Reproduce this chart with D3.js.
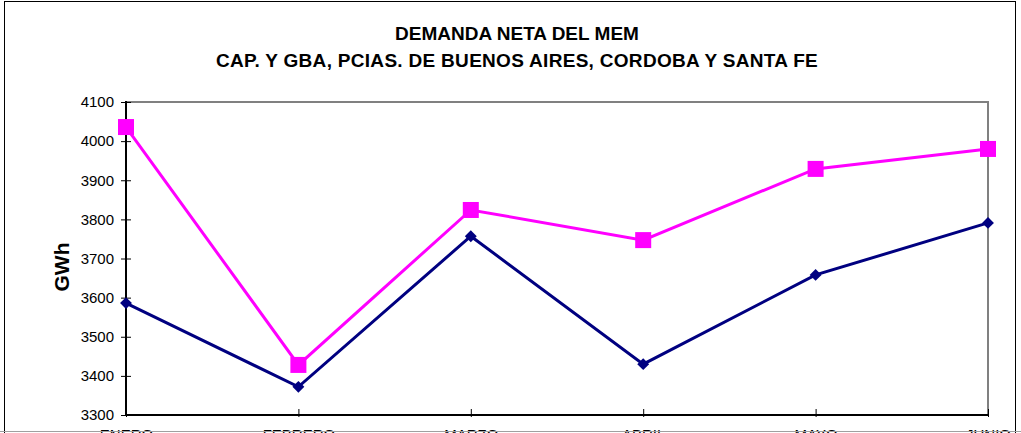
<!DOCTYPE html>
<html>
<head>
<meta charset="utf-8">
<script src="https://cdn.jsdelivr.net/npm/d3@7"></script>
<style>
  body { margin: 0; background: #fff; }
  svg { display: block; font-family: "Liberation Sans", Arial, sans-serif; }
</style>
</head>
<body>
<div id="chart"></div>
<script>
var months = ['ENERO', 'FEBRERO', 'MARZO', 'ABRIL', 'MAYO', 'JUNIO'];
var seriesPink = [4036, 3428, 3824, 3747, 3929, 3980];
var seriesNavy = [3586, 3372, 3757, 3430, 3658, 3791];
var yTicks = [3300, 3400, 3500, 3600, 3700, 3800, 3900, 4000, 4100];
var titleLines = ['DEMANDA NETA DEL MEM', 'CAP. Y GBA, PCIAS. DE BUENOS AIRES, CORDOBA Y SANTA FE'];

var width = 1021;
var height = 433;
var margin = { top: 102, right: 33, bottom: 18, left: 126 };
var plotW = width - margin.left - margin.right;
var plotH = height - margin.top - margin.bottom;
var fontFamily = '"Liberation Sans", Arial, sans-serif';

var svg = d3.select('#chart').append('svg')
    .attr('width', width)
    .attr('height', height);

// outer chart frame
svg.append('rect')
    .attr('x', 4.5)
    .attr('y', 1.5)
    .attr('width', 1011)
    .attr('height', 460)
    .attr('fill', 'none')
    .attr('stroke', '#000')
    .attr('stroke-width', 1);

svg.selectAll('text.title')
    .data(titleLines)
    .enter().append('text')
    .attr('class', 'title')
    .attr('x', 517)
    .attr('y', function(d, i) { return 40 + i * 27; })
    .attr('text-anchor', 'middle')
    .style('font-size', '19px')
    .style('font-weight', 'bold')
    .style('letter-spacing', function(d, i) { return i ? '0.3px' : '0px'; })
    .text(function(d) { return d; });

var x = d3.scalePoint().domain(months).range([0, plotW]);
var y = d3.scaleLinear().domain([3300, 4100]).range([plotH, 0]);

var g = svg.append('g')
    .attr('transform', 'translate(' + margin.left + ',' + margin.top + ')');

// top and right plot border
g.append('path')
    .attr('d', 'M0,0H' + plotW + 'V' + plotH)
    .attr('fill', 'none')
    .attr('stroke', '#808080')
    .attr('stroke-width', 2);

var yAxis = d3.axisLeft(y).tickValues(yTicks).tickFormat(d3.format('d')).tickSize(5).tickPadding(7);
var yG = g.append('g').call(yAxis);
yG.select('.domain').remove();
yG.selectAll('.tick line').attr('x2', 5).attr('x1', -5).attr('stroke', '#000');
yG.selectAll('.tick text')
    .style('font-size', '15px')
    .style('font-family', fontFamily)
    .attr('fill', '#000');

var xAxis = d3.axisBottom(x).tickSize(2).tickPadding(12);
var xG = g.append('g').attr('transform', 'translate(0,' + plotH + ')').call(xAxis);
xG.select('.domain').remove();
xG.selectAll('.tick line').attr('y1', -6).attr('y2', 2).attr('stroke', '#000');
xG.selectAll('.tick text')
    .style('font-size', '15px')
    .style('font-family', fontFamily)
    .attr('fill', '#000');

g.append('line')
    .attr('x1', 0).attr('x2', 0)
    .attr('y1', -1).attr('y2', plotH + 1)
    .attr('stroke', '#000').attr('stroke-width', 2);
g.append('line')
    .attr('x1', -1).attr('x2', plotW)
    .attr('y1', plotH).attr('y2', plotH)
    .attr('stroke', '#000').attr('stroke-width', 2);

svg.append('text')
    .attr('transform', 'translate(69,267) rotate(-90)')
    .attr('text-anchor', 'middle')
    .style('font-size', '21px')
    .style('font-weight', 'bold')
    .text('GWh');

var line = d3.line()
    .x(function(d, i) { return x(months[i]); })
    .y(function(d) { return y(d); });

g.append('path')
    .datum(seriesPink)
    .attr('d', line)
    .attr('fill', 'none')
    .attr('stroke', '#ff00ff')
    .attr('stroke-width', 3);

g.append('path')
    .datum(seriesNavy)
    .attr('d', line)
    .attr('fill', 'none')
    .attr('stroke', '#000080')
    .attr('stroke-width', 3);

g.selectAll('rect.pink')
    .data(seriesPink)
    .enter().append('rect')
    .attr('class', 'pink')
    .attr('x', function(d, i) { return x(months[i]) - 8; })
    .attr('y', function(d) { return y(d) - 8; })
    .attr('width', 16)
    .attr('height', 16)
    .attr('fill', '#ff00ff');

var diamond = d3.symbol().type(d3.symbolDiamond2).size(90);
g.selectAll('path.navy')
    .data(seriesNavy)
    .enter().append('path')
    .attr('class', 'navy')
    .attr('transform', function(d, i) { return 'translate(' + x(months[i]) + ',' + y(d) + ')'; })
    .attr('d', diamond)
    .attr('fill', '#000080');

// bottom cut line
svg.append('line')
    .attr('x1', 0).attr('x2', width)
    .attr('y1', 431.5).attr('y2', 431.5)
    .attr('stroke', '#a0a0a0')
    .attr('stroke-width', 1);
</script>
</body>
</html>
